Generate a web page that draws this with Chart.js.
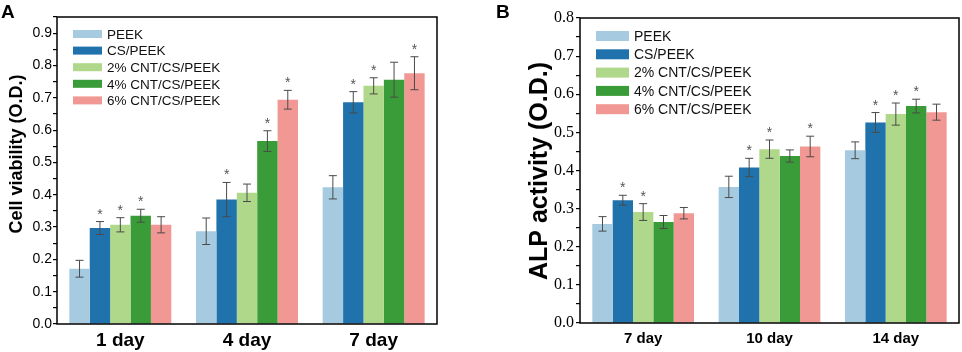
<!DOCTYPE html>
<html>
<head>
<meta charset="utf-8">
<script src="https://cdn.jsdelivr.net/npm/chart.js@4.4.1/dist/chart.umd.min.js"></script>
<style>
  body { margin: 0; background: #fff; }
  #wrap { position: relative; width: 962px; height: 352px; }
  canvas { position: absolute; top: 0; }
</style>
</head>
<body>
<div id="wrap">
  <canvas id="chartA" width="480" height="352" style="left:0"></canvas>
  <canvas id="chartB" width="482" height="352" style="left:480px"></canvas>
</div>
<script>
// groupes et couleurs
const groups = ['PEEK', 'CS/PEEK', '2% CNT/CS/PEEK', '4% CNT/CS/PEEK', '6% CNT/CS/PEEK'];
const colors = ['#a6cbe0', '#1f72ab', '#b0d88a', '#3a9c38', '#f29894'];

// Panel A : viabilité cellulaire
const daysA = ['1 day', '4 day', '7 day'];
const viabPEEK = [0.171, 0.287, 0.423];
const viabCS   = [0.297, 0.385, 0.686];
const viab2    = [0.307, 0.406, 0.737];
const viab4    = [0.335, 0.566, 0.756];
const viab6    = [0.307, 0.694, 0.776];
const errViabPEEK = [0.026, 0.041, 0.036];
const errViabCS   = [0.020, 0.053, 0.033];
const errViab2    = [0.022, 0.027, 0.025];
const errViab4    = [0.020, 0.032, 0.054];
const errViab6    = [0.025, 0.029, 0.051];
const starViabPEEK = [0, 0, 0];
const starViabCS   = [1, 1, 1];
const starViab2    = [1, 0, 1];
const starViab4    = [1, 1, 0];
const starViab6    = [0, 1, 1];
const ticksA = [0, 0.1, 0.2, 0.3, 0.4, 0.5, 0.6, 0.7, 0.8, 0.9];

// Panel B : activité ALP
const daysB = ['7 day', '10 day', '14 day'];
const alpPEEK = [0.260, 0.357, 0.453];
const alpCS   = [0.322, 0.408, 0.526];
const alp2    = [0.291, 0.456, 0.548];
const alp4    = [0.265, 0.438, 0.569];
const alp6    = [0.288, 0.463, 0.553];
const errAlpPEEK = [0.019, 0.028, 0.022];
const errAlpCS   = [0.013, 0.024, 0.026];
const errAlp2    = [0.022, 0.024, 0.029];
const errAlp4    = [0.017, 0.016, 0.018];
const errAlp6    = [0.015, 0.027, 0.021];
const starAlpPEEK = [0, 0, 0];
const starAlpCS   = [1, 1, 1];
const starAlp2    = [1, 1, 1];
const starAlp4    = [0, 0, 1];
const starAlp6    = [0, 1, 0];
const ticksB = [0, 0.1, 0.2, 0.3, 0.4, 0.5, 0.6, 0.7, 0.8];

// barres d'erreur + étoiles, cadre, légende, titres
const panelPlugin = {
  id: 'panel',
  afterDatasetsDraw(chart, args, opts) {
    const ctx = chart.ctx;
    const y = chart.scales.y;
    ctx.save();
    chart.data.datasets.forEach((ds, i) => {
      const meta = chart.getDatasetMeta(i);
      meta.data.forEach((bar, j) => {
        const v = ds.data[j], e = ds.errors[j];
        const yt = y.getPixelForValue(v + e);
        const yb = y.getPixelForValue(v - e);
        ctx.strokeStyle = '#4a4a4a';
        ctx.lineWidth = 1;
        ctx.beginPath();
        ctx.moveTo(bar.x, yt); ctx.lineTo(bar.x, yb);
        ctx.moveTo(bar.x - 4, yt); ctx.lineTo(bar.x + 4, yt);
        ctx.moveTo(bar.x - 4, yb); ctx.lineTo(bar.x + 4, yb);
        ctx.stroke();
        if (ds.stars[j]) {
          ctx.fillStyle = '#555';
          ctx.font = '14px "Liberation Sans", Arial, sans-serif';
          ctx.textAlign = 'center';
          ctx.textBaseline = 'alphabetic';
          ctx.fillText('*', bar.x, yt - 3);
        }
      });
    });
    // cadre
    const a = chart.chartArea;
    ctx.strokeStyle = '#000';
    ctx.lineWidth = 1.5;
    ctx.strokeRect(a.left, a.top, a.right - a.left, a.bottom - a.top);
    // légende
    ctx.font = opts.legendFont;
    ctx.textAlign = 'left';
    ctx.textBaseline = 'middle';
    chart.data.datasets.forEach((ds, i) => {
      const cy = opts.legendY + i * opts.legendStep;
      ctx.fillStyle = ds.backgroundColor;
      ctx.fillRect(opts.legendX, cy - opts.swH / 2, opts.swW, opts.swH);
      ctx.fillStyle = '#111';
      ctx.fillText(ds.label, opts.legendX + opts.swW + 5, cy + 1);
    });
    // lettre du panneau
    ctx.font = 'bold 19px "Liberation Sans", Arial, sans-serif';
    ctx.fillStyle = '#000';
    ctx.textBaseline = 'alphabetic';
    ctx.fillText(opts.letter, opts.letterX, 18);
    // titre de l'axe y
    ctx.save();
    ctx.translate(opts.titleX, opts.titleY);
    ctx.rotate(-Math.PI / 2);
    ctx.textAlign = 'center';
    ctx.textBaseline = 'middle';
    ctx.font = opts.titleFont;
    ctx.fillText(opts.title, 0, 0);
    ctx.restore();
    ctx.restore();
  }
};

function makeDatasets(means, errs, stars) {
  return groups.map((g, i) => ({
    label: g,
    data: means[i],
    errors: errs[i],
    stars: stars[i],
    backgroundColor: colors[i],
    borderWidth: 0,
    categoryPercentage: 0.805,
    barPercentage: 1.0
  }));
}

function makeChart(id, labels, datasets, cfg) {
  return new Chart(document.getElementById(id), {
    type: 'bar',
    data: { labels: labels, datasets: datasets },
    plugins: [panelPlugin],
    options: {
      responsive: false,
      animation: false,
      layout: { padding: { top: cfg.top, right: cfg.right, left: 0, bottom: 0 } },
      plugins: {
        legend: { display: false },
        tooltip: { enabled: false },
        panel: cfg.panel
      },
      scales: {
        x: {
          grid: { display: false },
          border: { display: false },
          ticks: { color: '#000', font: cfg.xFont, padding: cfg.xPad },
          afterFit: s => { s.height = cfg.xHeight; }
        },
        y: {
          min: 0,
          max: cfg.max,
          grid: { drawOnChartArea: false, drawTicks: true, tickLength: 4, color: '#000', lineWidth: 1.2 },
          border: { display: false },
          ticks: {
            stepSize: 0.05,
            color: '#000',
            font: cfg.yFont,
            padding: cfg.yPad,
            autoSkip: false,
            callback: v => {
              const k = Math.round(v * 100);
              return cfg.tickVals.some(t => Math.round(t * 100) === k) ? v.toFixed(1) : '';
            }
          },
          afterFit: s => { s.width = cfg.yWidth; }
        }
      }
    }
  });
}

makeChart('chartA', daysA,
  makeDatasets(
    [viabPEEK, viabCS, viab2, viab4, viab6],
    [errViabPEEK, errViabCS, errViab2, errViab4, errViab6],
    [starViabPEEK, starViabCS, starViab2, starViab4, starViab6]),
  {
    top: 17, right: 43, max: 0.95, yWidth: 57, xHeight: 28, xPad: -3, yPad: 1,
    tickVals: ticksA,
    xFont: { family: '"Liberation Sans", Arial, sans-serif', size: 19, weight: 'bold' },
    yFont: { family: '"Liberation Sans", Arial, sans-serif', size: 14 },
    panel: {
      letter: 'A', letterX: 1,
      title: 'Cell viability (O.D.)', titleX: 17, titleY: 154,
      titleFont: 'bold 18px "Liberation Sans", Arial, sans-serif',
      legendX: 73, legendY: 34, legendStep: 16.6, swW: 29, swH: 8,
      legendFont: '13.5px "Liberation Sans", Arial, sans-serif'
    }
  });

makeChart('chartB', daysB,
  makeDatasets(
    [alpPEEK, alpCS, alp2, alp4, alp6],
    [errAlpPEEK, errAlpCS, errAlp2, errAlp4, errAlp6],
    [starAlpPEEK, starAlpCS, starAlp2, starAlp4, starAlp6]),
  {
    top: 18, right: 3, max: 0.8, yWidth: 100, xHeight: 29, xPad: -1, yPad: 2,
    tickVals: ticksB,
    xFont: { family: '"Liberation Sans", Arial, sans-serif', size: 15, weight: 'bold' },
    yFont: { family: 'Liberation Serif, serif', size: 16 },
    panel: {
      letter: 'B', letterX: 16,
      title: 'ALP activity (O.D.)', titleX: 60, titleY: 171,
      titleFont: 'bold 25px "Liberation Sans", Arial, sans-serif',
      legendX: 116, legendY: 36, legendStep: 18.3, swW: 33, swH: 10,
      legendFont: '14px "Liberation Sans", Arial, sans-serif'
    }
  });
</script>
</body>
</html>
